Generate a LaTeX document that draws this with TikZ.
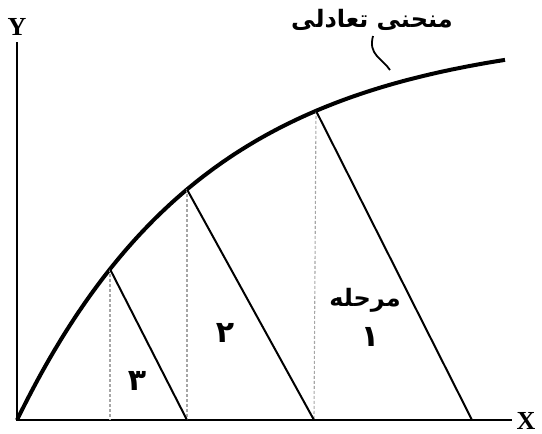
\documentclass[tikz,border=0pt]{standalone}
\usepackage{fontspec}
\setmainfont{Liberation Serif}
\newfontfamily\arabicfont[Script=Arabic,BoldFont={DejaVu Sans Bold}]{DejaVu Sans}
\TeXXeTstate=1
\begin{document}
\begin{tikzpicture}[x=1pt,y=-1pt,
  axis/.style={line width=2.4pt},
  curveline/.style={line width=4pt},
  stage/.style={line width=2pt},
  guide/.style={densely dashed, line width=1.1pt, gray!70},
  fa/.style={font=\arabicfont\bfseries\fontsize{24}{26}\selectfont, inner sep=0pt},
  dig/.style={font=\arabicfont\bfseries\fontsize{30}{32}\selectfont, inner sep=0pt},
  axlab/.style={font=\bfseries\fontsize{26}{28}\selectfont, inner sep=0pt}]
\useasboundingbox (0,0) rectangle (542,434);
\def\fy#1{420-390*(1-exp(-(#1)/190))}
\coordinate (O) at (17,420);
\coordinate (Ytop) at (17,42);
\coordinate (Xend) at (512,420);
\coordinate (P3) at (110,{\fy{93}});
\coordinate (P2) at (187,{\fy{170}});
\coordinate (P1) at (316,{\fy{299}});
\coordinate (B3) at (110,420);
\coordinate (B2) at (187,420);
\coordinate (B1) at (314,420);
\coordinate (Q1) at (472,420);
\draw[axis] (Ytop) -- (O) -- (Xend);
\node[axlab] (ylab) at (17,27) {Y};
\node[axlab] (xlab) at (526,421) {X};
\draw[curveline] plot[domain=0:488, samples=120] ({17+\x},{\fy{\x}});
\draw[guide] (P3) -- (B3);
\draw[guide] (P2) -- (B2);
\draw[guide] (P1) -- (B1);
\draw[stage] (P3) -- (B2);
\draw[stage] (P2) -- (B1);
\draw[stage] (P1) -- (Q1);
\node[fa] (title) at (372,20) {\beginR منحنی تعادلی\endR};
\coordinate (lead) at (390,70);
\draw[line width=1.8pt] (373,36) .. controls (368,55) and (382,58) .. (lead);
\node[fa] (st) at (365,300) {\beginR مرحله\endR};
\node[dig] (n1) at (370,337) {۱};
\node[dig] (n2) at (225,333) {۲};
\node[dig] (n3) at (137,381) {۳};
\end{tikzpicture}
\end{document}
